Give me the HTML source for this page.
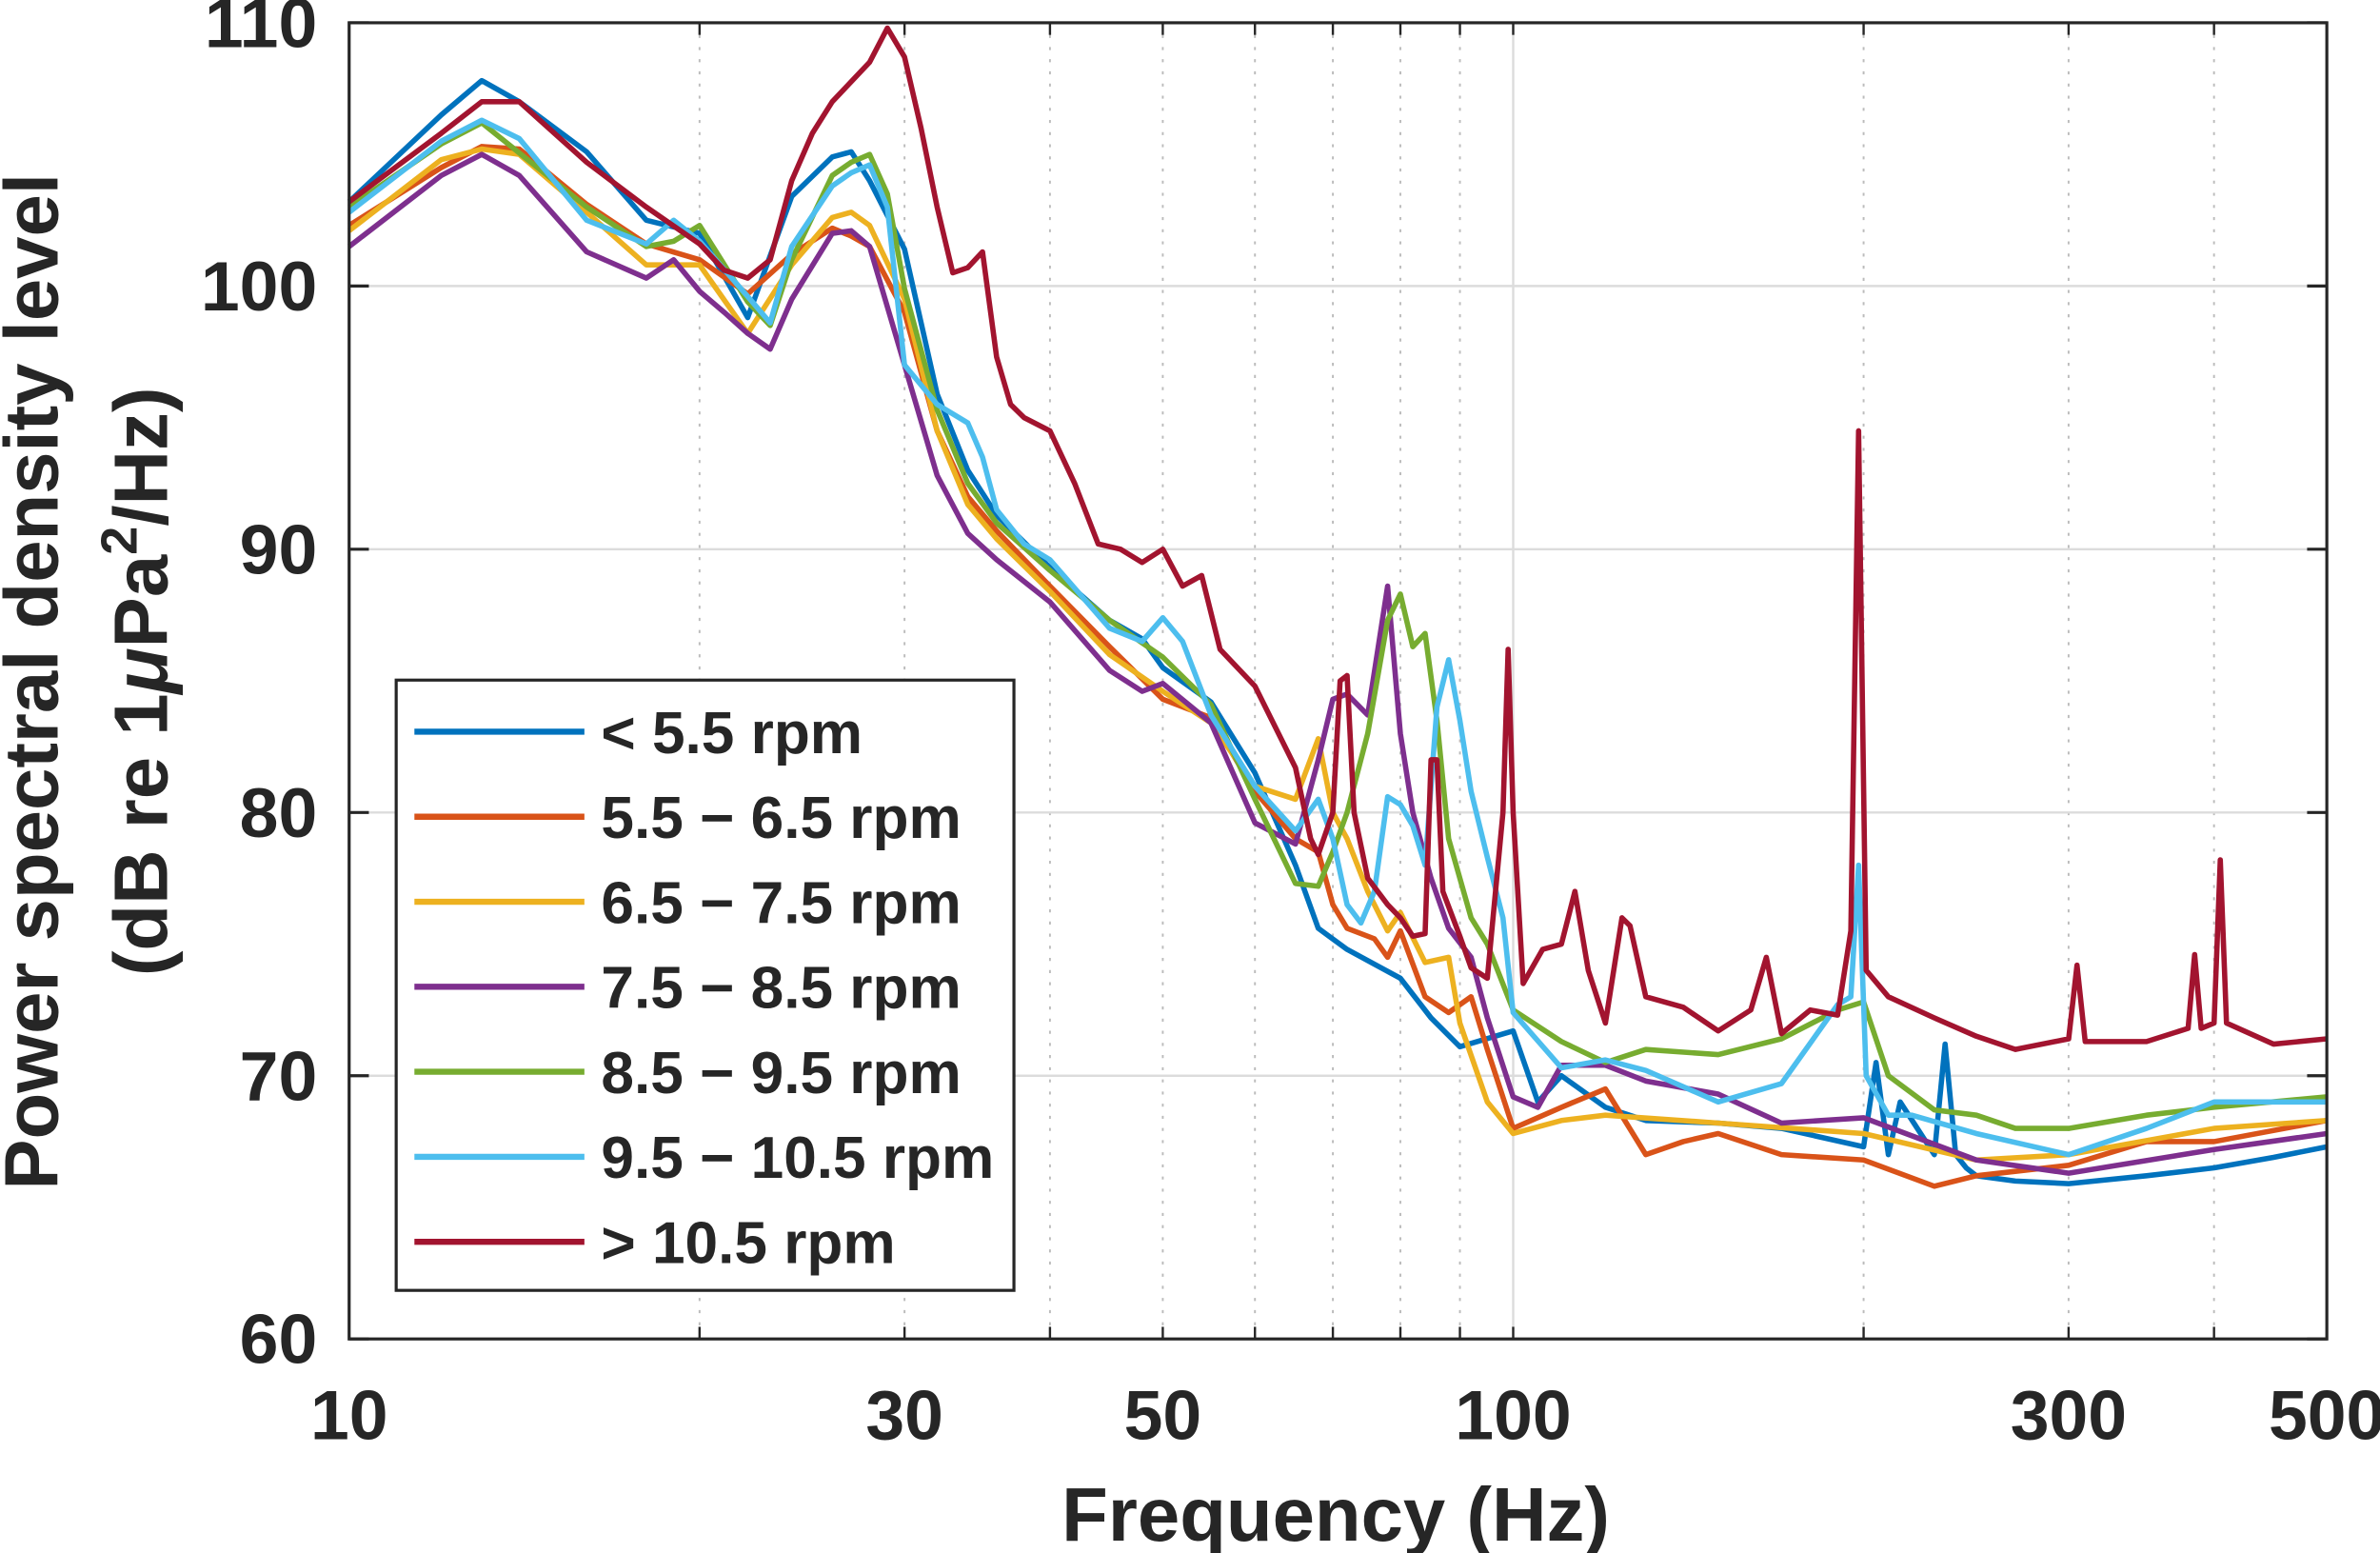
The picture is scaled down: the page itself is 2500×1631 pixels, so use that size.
<!DOCTYPE html>
<html><head><meta charset="utf-8">
<style>
html,body{margin:0;padding:0;background:#fff;}
svg{display:block;}
text{font-family:"Liberation Sans",Arial,sans-serif;font-weight:bold;fill:#262626;}
</style></head>
<body>
<svg id="chart" width="2500" height="1631" viewBox="0 0 1568 1023" xmlns="http://www.w3.org/2000/svg">
<g id="grid"></g>
<g id="series"></g>
<rect x="230" y="15" width="1303" height="867" fill="none" stroke="#262626" stroke-width="2"/>
<g id="ticks"></g>
<text x="880" y="1015" font-size="50" text-anchor="middle">Frequency (Hz)</text>
<g>
<text transform="translate(38,449) rotate(-90)" font-size="50" text-anchor="middle">Power spectral density level</text>
<text transform="translate(110,449) rotate(-90)" font-size="50" text-anchor="middle">(dB re 1<tspan font-style="italic">μ</tspan>Pa<tspan dy="-20" font-size="34">2</tspan><tspan dy="20">/Hz)</tspan></text>
</g>
<g id="legend">
<rect x="261" y="448" width="407" height="402" fill="#fff" stroke="#262626" stroke-width="2"/>
</g>
</svg>
<script>
const xTicks=[10,30,50,100,300,500];
const xMinor=[20,30,40,50,60,70,80,90,200,300,400];
const yTicks=[60,70,80,90,100,110];
const labels=["< 5.5 rpm","5.5 \u2212 6.5 rpm","6.5 \u2212 7.5 rpm","7.5 \u2212 8.5 rpm","8.5 \u2212 9.5 rpm","9.5 \u2212 10.5 rpm","> 10.5 rpm"];
const colors=["#0072BD","#D95319","#EDB120","#7E2F8E","#77AC30","#4DBEEE","#A2142F"];
const f0=[10,12,13,14,16,18,20,22,24,26,27,28,30,32,34,36,40,45,48,50,55,60,65,68,72,80,85,90,100,105,110,120,130,150,170,200,205,210,215,230,235,240,245,250,270,300,350,400,450,500];
const v0=[103.2,106.5,107.8,107,105.1,102.5,102,98.8,103.4,104.9,105.1,104,101.4,95.9,93,91.3,89.3,87.3,86.6,85.5,84.2,81.5,78,75.6,74.8,73.7,72.2,71.1,71.7,69,70,68.8,68.3,68.2,68,67.3,70.5,67,69,67,71.2,67,66.5,66.2,66,65.9,66.2,66.5,66.9,67.3];
const f1=[10,12,13,14,16,18,20,22,24,26,27,28,30,32,34,36,40,45,50,55,60,65,68,70,72,76,78,80,84,88,92,95,100,110,120,130,140,150,170,200,230,250,300,350,400,500];
const v1=[102.3,104.5,105.3,105.2,103.1,101.6,101,99.7,101.2,102.2,101.9,101.5,99,94.5,92,90.7,88.6,86.3,84.3,83.6,80.8,79,78.5,76.5,75.6,75.2,74.5,75.5,73,72.4,73,71,68,68.8,69.5,67,67.5,67.8,67,66.8,65.8,66.2,66.6,67.5,67.5,68.3];
const f2=[10,12,13,14,16,18,20,22,24,26,27,28,30,32,34,36,40,45,50,55,60,65,68,70,72,75,78,80,84,88,90,95,100,110,120,150,200,250,300,400,500];
const v2=[102.1,104.8,105.2,105,102.8,100.8,100.8,98.2,100.8,102.6,102.8,102.3,99.5,94.5,91.7,90.4,88.4,86,84.6,83.4,81,80.5,82.8,80,79,77,75.5,76.2,74.3,74.5,72,69,67.8,68.3,68.5,68.2,67.8,66.8,67,68,68.3];
const f3=[10,12,13,14,16,18,19,20,21,22,23,24,26,27,28,30,32,34,36,40,45,48,50,55,60,65,68,70,72,75,78,80,82,85,88,92,95,100,105,110,120,130,150,170,200,250,300,400,500];
const v3=[101.5,104.2,105,104.2,101.3,100.3,101,99.8,99,98.2,97.6,99.5,102,102.1,101.5,97,92.8,90.6,89.6,88,85.4,84.6,84.9,83.4,79.6,78.8,82,84.3,84.5,83.7,88.6,83,80,77.5,75.6,74.5,72.2,69.2,68.8,70.4,70.4,69.8,69.3,68.2,68.4,66.8,66.3,67.2,67.8];
const f4=[10,12,13,16,18,19,20,22,23,24,26,27,28,29,30,32,34,36,40,45,50,55,60,65,68,70,72,75,78,80,82,84,86,88,92,95,100,110,120,130,150,170,190,200,210,230,250,270,300,350,400,500];
const v4=[103,105.4,106.2,103,101.5,101.7,102.3,99.4,98.5,101,104.2,104.7,105,103.5,99.9,95.3,92.5,91,89.2,87.3,85.9,84.1,80.5,77.3,77.2,78.5,80,83,87.3,88.3,86.3,86.8,83.5,79,76,75,72.5,71.3,70.5,71,70.8,71.4,72.5,72.8,70,68.7,68.5,68,68,68.5,68.8,69.2];
const f5=[10,12,13,14,16,18,19,20,22,23,24,26,27,28,29,30,32,34,35,36,38,40,45,48,50,52,55,60,65,68,70,72,74,76,78,80,82,84,86,88,90,92,95,98,100,110,120,130,150,170,190,195,198,201,210,220,250,300,350,400,500];
const v5=[102.8,105.5,106.3,105.6,102.5,101.6,102.5,101.7,99.6,98.6,101.5,103.8,104.3,104.6,103,97,95.5,94.8,93.5,91.5,90.2,89.6,87,86.5,87.4,86.5,83.7,81,79.3,80.5,79,76.5,75.8,77,80.6,80.3,79.5,78,84,85.8,83.5,80.8,78.3,76,72.4,70.3,70.6,70.2,69,69.7,72.7,73,78,70,68.5,68.5,67.8,67,68,69,69];
const f6=[10,12,13,14,16,18,20,21,22,23,24,25,26,28,29,30,31,32,33,34,35,36,37,38,40,42,44,46,48,50,52,54,56,60,65,67,68,70,71,72,73,75,78,80,82,84,85,86,87,90,92,95,98,99,100,102,106,110,113,116,120,124,126,130,140,150,160,165,170,180,190,195,198,201,210,230,250,270,300,305,310,350,380,385,390,400,405,410,450,500];
const v6=[103.2,105.8,107,107,104.7,103,101.6,100.6,100.3,101,104,105.8,107,108.5,109.8,108.7,106,103,100.5,100.7,101.3,97.3,95.5,95,94.5,92.5,90.2,90,89.5,90,88.6,89,86.2,84.8,81.7,79,78.4,80,85,85.2,80,77.5,76.5,76,75.3,75.4,82,82,77,75.3,74.1,73.7,80,86.2,80,73.5,74.8,75,77,74,72,76,75.7,73,72.6,71.7,72.5,74.5,71.6,72.5,72.3,75.5,94.5,74,73,72.2,71.5,71,71.4,74.2,71.3,71.3,71.8,74.6,71.8,72,78.2,72,71.2,71.4];
const freqs=[f0,f1,f2,f3,f4,f5,f6];
const vals=[v0,v1,v2,v3,v4,v5,v6];

const L=230,R=1533,T=15,B=882;
const xs=f=>L+(Math.log10(f)-1)/Math.log10(50)*(R-L);
const ys=v=>B-(v-60)/50*(B-T);
const NS="http://www.w3.org/2000/svg";
function mk(tag,attrs,parent){const e=document.createElementNS(NS,tag);for(const k in attrs)e.setAttribute(k,attrs[k]);parent.appendChild(e);return e;}
const grid=document.getElementById('grid'),ticks=document.getElementById('ticks'),ser=document.getElementById('series'),leg=document.getElementById('legend');
xMinor.forEach(f=>{const l=mk('line',{x1:xs(f),x2:xs(f),y1:T,y2:B,stroke:'#bbb','stroke-width':1.2,'stroke-dasharray':'2,6'},grid);

});
[100].forEach(f=>{const l=mk('line',{x1:xs(f),x2:xs(f),y1:T,y2:B,stroke:'#dcdcdc','stroke-width':1.5},grid);

});
yTicks.forEach(v=>{const l=mk('line',{x1:L,x2:R,y1:ys(v),y2:ys(v),stroke:'#dcdcdc','stroke-width':1.5},grid);


const t1=mk('line',{x1:L,x2:L+13,y1:ys(v),y2:ys(v),stroke:'#262626','stroke-width':2},ticks);


const t2=mk('line',{x1:R-13,x2:R,y1:ys(v),y2:ys(v),stroke:'#262626','stroke-width':2},ticks);


const tx=mk('text',{x:209,y:ys(v)+16,'font-size':46,'text-anchor':'end'},ticks);tx.textContent=v;

});
xMinor.concat([100]).forEach(f=>{const a=mk('line',{x1:xs(f),x2:xs(f),y1:B,y2:B-8,stroke:'#262626','stroke-width':1.5},ticks);


const b=mk('line',{x1:xs(f),x2:xs(f),y1:T,y2:T+8,stroke:'#262626','stroke-width':1.5},ticks);

});
xTicks.forEach(f=>{const tx=mk('text',{x:xs(f),y:948,'font-size':46,'text-anchor':'middle'},ticks);tx.textContent=f;

});
freqs.forEach((fa,i)=>{const d=fa.map((f,j)=>(j?'L':'M')+xs(f).toFixed(1)+','+ys(vals[i][j]).toFixed(1)).join('');
const p=mk('path',{d:d,fill:'none',stroke:colors[i],'stroke-width':3.5,'stroke-linejoin':'round'},ser);

});
labels.forEach((lab,i)=>{const y=482+i*56;
const g=mk('g',{},leg);


mk('line',{x1:273,x2:385,y1:y,y2:y,stroke:colors[i],'stroke-width':4},g);
const t=mk('text',{x:396,y:y+14,'font-size':39},g);t.textContent=lab;});
</script>
</body></html>
